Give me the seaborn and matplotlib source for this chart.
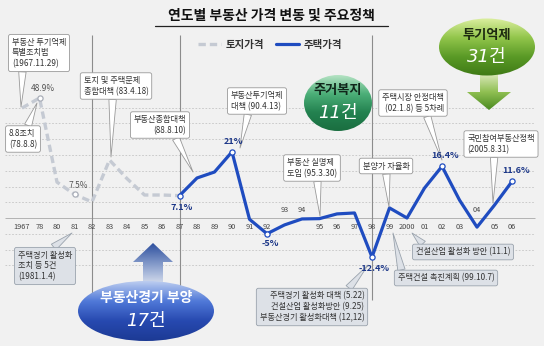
import numpy as np
import pandas as pd
import seaborn as sns
import matplotlib.pyplot as plt
from matplotlib.patches import Ellipse, Polygon, Rectangle
from matplotlib.colors import LinearSegmentedColormap
from matplotlib.font_manager import FontProperties

sns.set_theme(style='white')
plt.rcParams['font.family'] = ['Noto Sans CJK KR', 'DejaVu Sans']
plt.rcParams['axes.unicode_minus'] = False

# ---- data ----
years = ['1967', '78', '80', '81', '82', '83', '84', '85', '86', '87', '88', '89', '90',
         '91', '92', '93', '94', '95', '96', '97', '98', '99', '2000', '01', '02', '03',
         '04', '05', '06']
nan = np.nan
land_pct = [34.9, 38.1, 11.4, 7.5, 5.1, 18.4, 12.5, 7.3, 7.3, 7.1] + [nan] * 19
house_pct = [nan] * 9 + [7.1, 12.7, 14.6, 21.0, -0.4, -5.0, -2.2, -0.3, -0.2, 1.3, 1.6,
                         -12.4, 3.2, 0.0, 9.5, 16.4, 5.7, -2.9, 4.1, 11.6]
land_mark_idx = [1, 3]
land_mark_txt = ['48.9%', '7.5%']
house_mark_idx = [9, 12, 14, 20, 24, 28]
house_mark_txt = ['7.1%', '21%', '-5%', '-12.4%', '16.4%', '11.6%']
raised_years = ['93', '94', '04']
policy_years = [4, 9, 20]   # 1982, 1987, 1998 separators

title = '연도별 부동산 가격 변동 및 주요정책'
series_names = ['토지가격', '주택가격']

df = pd.DataFrame({'idx': range(len(years)), 'land': land_pct, 'house': house_pct})

# ---- pixel layout helpers ----
W, H = 544, 352
X0, DX = 22, 17.5
Y0, DY = 218, 3.15

def px(i):
    return X0 + DX * i

def py(v):
    return Y0 - DY * v

def vy(p):
    return (Y0 - p) / DY

def ix(p):
    return (p - X0) / DX

BLUE = '#1f4cc0'
DARKBLUE = '#1c3788'
LANDGREY = '#c5cad3'

fig = plt.figure(figsize=(W / 100, H / 100), dpi=100, facecolor='#f1f1f1')
ax = fig.add_axes([0, 0, 1, 1])
ax.set_facecolor('none')
ov = fig.add_axes([0, 0, 1, 1])
ov.set_facecolor('none')
ov.set_xlim(0, W)
ov.set_ylim(H, 0)
ov.set_autoscale_on(False)
ov.axis('off')

# grid + separators
for v in range(-15, 40, 5):
    if v == 0:
        ax.hlines(0, ix(5), ix(535), color='#b3b3b3', lw=0.7, zorder=1)
    else:
        ax.hlines(v, ix(5), ix(535), color='#c4c4c4', lw=0.6,
                  linestyles=(0, (2, 2)), zorder=1)
ax.vlines(policy_years, vy(300), vy(35), color='#8c8c8c', lw=0.8, zorder=1)

# series
sns.lineplot(data=df, x='idx', y='land', ax=ax, color=LANDGREY, lw=2.4,
             linestyle=(0, (2.2, 1.2)), errorbar=None, zorder=3)
sns.lineplot(data=df, x='idx', y='house', ax=ax, color=BLUE, lw=2.3,
             errorbar=None, zorder=4)
sns.scatterplot(x=land_mark_idx, y=[land_pct[i] for i in land_mark_idx], ax=ax,
                s=14, color='white', edgecolor='#a9aeb8', linewidth=0.9, zorder=5)
sns.scatterplot(x=house_mark_idx, y=[house_pct[i] for i in house_mark_idx], ax=ax,
                s=14, color='white', edgecolor=BLUE, linewidth=0.9, zorder=5)

ax.set_xlim(ix(0), ix(W))
ax.set_ylim(vy(H), vy(0))
ax.axis('off')

# year labels
for i, lab in enumerate(years):
    ypix = 210 if lab in raised_years else 227
    ax.text(i, vy(ypix), lab, ha='center', va='center', fontsize=5.3, color='#444444')

# value labels
land_off = [(3, -9), (4, -9)]
for i, t, (dx, dy) in zip(land_mark_idx, land_mark_txt, land_off):
    ov.text(px(i) + dx, py(land_pct[i]) + dy, t, ha='center', va='center',
            fontsize=6, color='#555555', zorder=7)
house_off = [(2, 12), (1, -10), (3, 10), (2, 11), (3, -11), (4, -11)]
for i, t, (dx, dy) in zip(house_mark_idx, house_mark_txt, house_off):
    ov.text(px(i) + dx, py(house_pct[i]) + dy, t, ha='center', va='center',
            fontsize=6.5, color=DARKBLUE, weight='bold', zorder=7)

# title + legend
ov.text(271, 16, title, ha='center', va='center', fontsize=10, weight='bold', color='#111111')
ov.plot([155, 388], [26, 26], color='#222222', lw=0.9)
leg_font = FontProperties(family=['Noto Sans CJK KR', 'DejaVu Sans'], weight='bold',
                          style='italic', size=7.5)
leg = ax.legend(handles=ax.lines[-2:], labels=series_names, ncol=2, loc='center',
                bbox_to_anchor=(270 / W, 1 - 45 / H), frameon=False, prop=leg_font,
                handlelength=2.2, columnspacing=1.2, handletextpad=0.4)
for t in leg.get_texts():
    t.set_color('#333333')

# callout boxes: text, box centre, pointer tip, alignment, pointer origin, fill
WHITE_BOX = ('white', '#999999')
GREY_BOX = ('#dde1e7', '#9aa3ad')
notes = [
    ('부동산 투기억제\n특별조치법\n(1967.11.29)', (39, 53), (21, 107), 'left', (0.2, 0.1), WHITE_BOX),
    ('8.8조치\n(78.8.8)', (23, 139), (37, 103), 'left', (0.6, 0.9), WHITE_BOX),
    ('토지 및 주택문제\n종합대책 (83.4.18)', (116, 86), (111, 157), 'left', (0.45, 0.1), WHITE_BOX),
    ('부동산종합대책\n(88.8.10)', (160, 125), (193, 172), 'right', (0.75, 0.1), WHITE_BOX),
    ('부동산투기억제\n대책 (90.4.13)', (257, 101), (240, 148), 'left', (0.35, 0.1), WHITE_BOX),
    ('부동산 실명제\n도입 (95.3.30)', (312, 168), (320, 216), 'left', (0.6, 0.1), WHITE_BOX),
    ('분양가 자율화', (386, 166), (389, 207), 'left', (0.5, 0.1), WHITE_BOX),
    ('주택시장 안정대책\n(02.1.8) 등 5차례', (413, 103), (442, 160), 'right', (0.7, 0.1), WHITE_BOX),
    ('국민참여부동산정책\n(2005.8.31)', (501, 144), (493, 203), 'left', (0.4, 0.1), WHITE_BOX),
    ('주택경기 활성화\n조치 등 5건\n(1981.1.4)', (45, 266), (72, 233), 'left', (0.5, 0.9), GREY_BOX),
    ('주택경기 활성화 대책 (5.22)\n건설산업 활성화방안 (9.25)\n부동산경기 활성화대책 (12,12)',
     (312, 307), (368, 265), 'right', (0.8, 0.9), GREY_BOX),
    ('건설산업 활성화 방안 (11.1)', (463, 252), (412, 233), 'left', (0.12, 0.9), GREY_BOX),
    ('주택건설 촉진계획 (99.10.7)', (446, 278), (393, 233), 'left', (0.05, 0.9), GREY_BOX),
]
for text, (bx, by), tip, align, rel, (fc, ec) in notes:
    ov.annotate(text, xy=tip, xytext=(bx, by), ha='center', va='center',
                multialignment=align, fontsize=5.9, color='#333333', linespacing=1.25,
                bbox=dict(boxstyle='round,pad=0.4,rounding_size=0.25', fc=fc, ec=ec, lw=0.6),
                arrowprops=dict(arrowstyle='wedge,tail_width=0.9,shrink_factor=0.5',
                                fc=fc, ec=ec, lw=0.6, shrinkA=0, shrinkB=0, relpos=rel),
                zorder=6)

# gradient shapes
def grad_patch(patch, colors, box, z):
    patch.set_facecolor('none')
    patch.set_edgecolor('none')
    patch.set_zorder(z)
    ov.add_patch(patch)
    x0, x1, y0, y1 = box
    cmap = LinearSegmentedColormap.from_list('g', colors)
    im = ov.imshow(np.linspace(0, 1, 200).reshape(-1, 1), cmap=cmap,
                   extent=(x0, x1, y1, y0), aspect='auto', origin='upper',
                   interpolation='bilinear', zorder=z)
    im.set_clip_path(patch)

# 투기억제
grad_patch(Polygon([(480, 74), (498, 74), (498, 92), (511, 92), (489, 110), (467, 92), (480, 92)]),
           ['#d9e8b8', '#8fbf52', '#4a8a20'], (466, 512, 74, 110), 8)
grad_patch(Ellipse((487, 47), 96, 57), ['#dcefa0', '#93c64c', '#5a9a26', '#3f7a16'],
           (439, 535, 18, 76), 9)
ov.text(487, 35, '투기억제', ha='center', va='center', fontsize=9.5, weight='bold',
        color='#1d2a10', zorder=10)
ov.text(487, 57, '31건', ha='center', va='center', fontsize=13, style='italic',
        color='white', zorder=10, family=['DejaVu Sans', 'Noto Sans CJK KR'])

# 주거복지
grad_patch(Ellipse((338, 103), 68, 56), ['#b5e3c4', '#4caf78', '#238250', '#1a6e40'],
           (304, 372, 75, 131), 9)
ov.text(338, 90, '주거복지', ha='center', va='center', fontsize=9.5, weight='bold',
        color='#10261a', zorder=10)
ov.text(338, 113, '11건', ha='center', va='center', fontsize=13, style='italic',
        color='white', zorder=10, family=['DejaVu Sans', 'Noto Sans CJK KR'])

# 부동산경기 부양
grad_patch(Polygon([(153, 243), (173, 262), (163, 262), (163, 290), (143, 290), (143, 262), (133, 262)]),
           ['#2d4f9e', '#8ea3cf', '#eef1f7'], (133, 173, 243, 290), 8)
grad_patch(Ellipse((146, 311), 136, 60), ['#bccdf0', '#5079d8', '#2749b0', '#1c3a94'],
           (78, 214, 281, 341), 9)
ov.text(146, 298, '부동산경기 부양', ha='center', va='center', fontsize=10, weight='bold',
        color='white', zorder=10)
ov.text(146, 321, '17건', ha='center', va='center', fontsize=13, style='italic',
        color='white', zorder=10, family=['DejaVu Sans', 'Noto Sans CJK KR'])

ov.add_patch(Rectangle((0, 346), W, 6, fc='white', ec='none', zorder=0))

fig.savefig('out.png', dpi=100, facecolor=fig.get_facecolor())
